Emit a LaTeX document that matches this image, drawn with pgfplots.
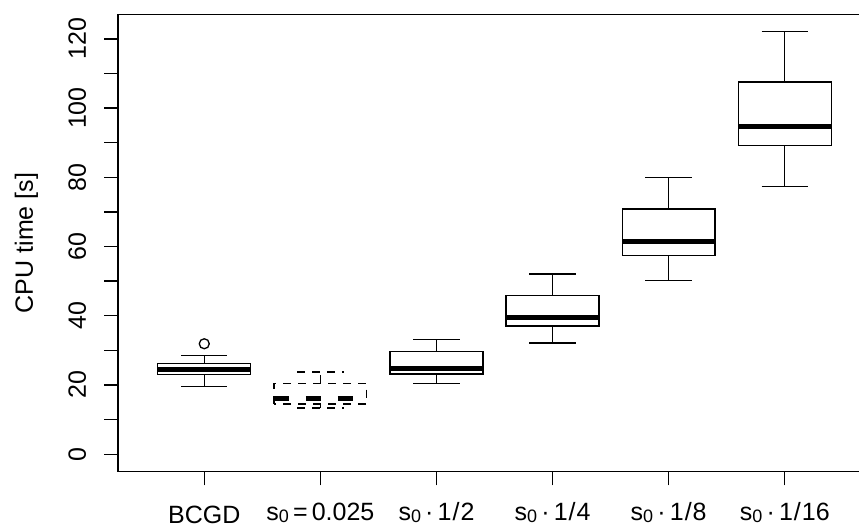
\documentclass[border=0pt]{standalone}
\usepackage{fontspec}
\setmainfont{Liberation Sans}
\usepackage{pgfplots}
\pgfplotsset{compat=1.18}
\usepgfplotslibrary{statistics}
\usetikzlibrary{calc}
% R-style subscript
\newcommand{\sub}[1]{\raisebox{-2pt}{\fontsize{18}{18}\selectfont #1}}
\newcommand{\sdot}{\,·\,}
\newcommand{\slab}[1]{\raisebox{2.5pt}{s\sub{0}#1}}
\newcommand{\rfont}{\fontsize{25}{30}\selectfont}

\begin{document}
\begin{tikzpicture}[font=\rfont]
\begin{axis}[
  scale only axis, width=752.7pt, height=457.5pt,
  xmin=0.257, xmax=6.74, ymin=-5.1, ymax=127.1,
  axis line style={line width=1.3pt},
  tick align=outside, major tick length=13.5pt, minor tick length=13.5pt,
  every tick/.style={black, line width=1.3pt},
  tick label style={font=\rfont},
  label style={font=\rfont},
  xtick={1,...,6}, xtick pos=left,
  xticklabels={{BCGD},{\slab{\,=\,0.025}},{\slab{\sdot1\kern1pt/\kern1pt2}},
    {\slab{\sdot1\kern1pt/\kern1pt4}},{\slab{\sdot1\kern1pt/\kern1pt8}},
    {\slab{\sdot1\kern1pt/\kern1pt16}}},
  xticklabel style={anchor=base, yshift=-38.1pt},
  ytick={0,20,...,120}, minor ytick={10,30,...,110}, ytick pos=left,
  yticklabel style={xshift=-18.5pt, rotate=90, anchor=base},
  /pgf/number format/assume math mode=true,
  ylabel={CPU time [s]},
  ylabel style={at={($(axis description cs:0,0.5)+(-85pt,0)$)}, anchor=base},
  boxplot/draw direction=y,
  boxplot/box extend=0.8, boxplot/whisker extend=0.4,
]
% BCGD
\addplot[black, line width=1.3pt, mark=o, mark size=5pt,
  boxplot/every median/.style={line width=5pt},
  boxplot prepared={draw position=1, lower whisker=19.5, lower quartile=23.0,
    median=24.4, upper quartile=26.1, upper whisker=28.5}]
  table[row sep=\\, y index=0] {31.9\\};
% s0 = 0.025 (dashed)
\addplot[black, line width=1.3pt, dash pattern=on 8pt off 7pt,
  boxplot/every median/.style={line width=5pt, dash pattern=on 15pt off 17pt},
  boxplot prepared={draw position=2, lower whisker=13.3, lower quartile=14.5,
    median=16.2, upper quartile=20.5, upper whisker=23.7}]
  coordinates {};
% s0 * 1/2
\addplot[black, line width=1.3pt,
  boxplot/every median/.style={line width=5pt},
  boxplot prepared={draw position=3, lower whisker=20.5, lower quartile=23.2,
    median=24.8, upper quartile=29.6, upper whisker=33.2}]
  coordinates {};
% s0 * 1/4
\addplot[black, line width=1.3pt,
  boxplot/every median/.style={line width=5pt},
  boxplot prepared={draw position=4, lower whisker=32.1, lower quartile=37.0,
    median=39.5, upper quartile=45.8, upper whisker=52.1}]
  coordinates {};
% s0 * 1/8
\addplot[black, line width=1.3pt,
  boxplot/every median/.style={line width=5pt},
  boxplot prepared={draw position=5, lower whisker=50.2, lower quartile=57.4,
    median=61.4, upper quartile=70.8, upper whisker=79.9}]
  coordinates {};
% s0 * 1/16
\addplot[black, line width=1.3pt,
  boxplot/every median/.style={line width=5pt},
  boxplot prepared={draw position=6, lower whisker=77.4, lower quartile=89.1,
    median=94.6, upper quartile=107.5, upper whisker=122.2}]
  coordinates {};
\end{axis}
\pgfresetboundingbox
\path[use as bounding box] ($(current axis.south west)+(-118pt,-53.3pt)$)
  rectangle ($(current axis.north west)+(741pt,14.3pt)$);
\end{tikzpicture}
\end{document}
